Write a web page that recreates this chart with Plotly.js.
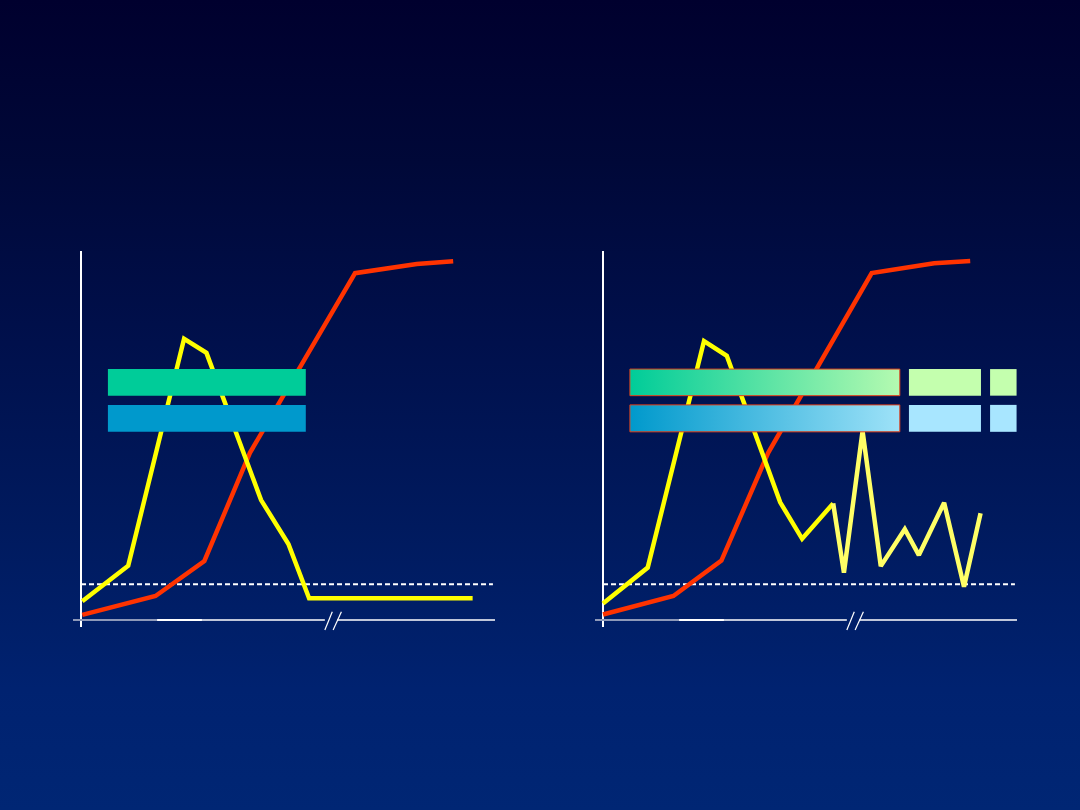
<!DOCTYPE html>
<html><head><meta charset="utf-8">
<script src="https://cdn.plot.ly/plotly-3.0.1.min.js"></script>
<style>
html,body{margin:0;padding:0;width:1080px;height:810px;overflow:hidden;
background:linear-gradient(to bottom,#00002E 0%,#000838 20%,#000F4A 40%,#001A5E 65%,#002270 85%,#002674 100%);}
#chart{width:1080px;height:810px;}
</style>
</head><body><div id="chart"></div>
<script>
// Panel 1 (left)
const red1X=[0.3,18.0,29.8,40.8,66.2,81.1,89.9];
const red1Y=[1.4,6.5,16.0,45.3,94.0,96.5,97.2];
const yel1X=[0.3,11.4,24.9,30.3,43.5,50.1,55.1,94.6];
const yel1Y=[5.1,14.7,76.2,72.4,32.5,20.6,5.9,5.9];
// Panel 2 (right)
const red2X=[0,17.0,28.6,39.9,64.9,80.0,88.7];
const red2Y=[1.5,6.5,16.1,45.3,94.0,96.7,97.3];
const yel2aX=[0,10.8,24.4,29.9,42.8,48.1,55.6];
const yel2aY=[4.5,14.2,75.6,71.6,31.9,22.0,31.6];
const yel2bX=[55.6,58.2,62.7,67.1,72.9,76.3,82.4,87.2,91.2];
const yel2bY=[31.6,12.8,51.2,14.6,24.6,17.6,31.8,9.0,28.9];
const threshold=9.7;
const thresholdEnd=99.5;
const axisBreak=59.9;
// Bands
const band1Start=[6.5], band1End=[54.3];
const band2Segments=[[6.5,71.7],[73.9,91.3],[93.5,99.9]];
const greenBand=[60.8,68.0];
const blueBand=[51.0,58.3];

const RED='#FF3300', YEL='#FFFF00', PALE='#FFFF66';
const G0='#00CC99', G1='#C4FFAE', B0='#0099CC', B1='#A8E6FF';

function line(x,y,color,xa,ya){return {type:'scatter',mode:'lines',x:x,y:y,xaxis:xa,yaxis:ya,
  line:{color:color,width:4.5},hoverinfo:'skip',showlegend:false};}
function rect(x0,x1,band,xa,ya,fill,grad,edge){
  const t={type:'scatter',mode:'lines',x:[x0,x1,x1,x0,x0],y:[band[0],band[0],band[1],band[1],band[0]],
    xaxis:xa,yaxis:ya,fill:'toself',hoverinfo:'skip',showlegend:false,
    line:{color:edge||'rgba(0,0,0,0)',width:edge?1:0}};
  if(grad){t.fillgradient={type:'horizontal',colorscale:[[0,grad[0]],[1,grad[1]]]};t.fillcolor=grad[0];}
  else t.fillcolor=fill;
  return t;}
function dashed(xa,ya){return {type:'scatter',mode:'lines',x:[0,thresholdEnd],y:[threshold,threshold],xaxis:xa,yaxis:ya,
  line:{color:'#FFFFFF',width:2,dash:'5px,3px'},hoverinfo:'skip',showlegend:false};}

const data=[
  dashed('x','y'),
  line(red1X,red1Y,RED,'x','y'),
  line(yel1X,yel1Y,YEL,'x','y'),
  rect(band1Start[0],band1End[0],greenBand,'x','y',G0),
  rect(band1Start[0],band1End[0],blueBand,'x','y',B0),
  dashed('x2','y2'),
  line(red2X,red2Y,RED,'x2','y2'),
  line(yel2aX,yel2aY,YEL,'x2','y2'),
  line(yel2bX,yel2bY,PALE,'x2','y2'),
];
band2Segments.forEach((s,i)=>{
  if(i===0){
    data.push(rect(s[0],s[1],greenBand,'x2','y2',null,[G0,'#B4FAB0'],'#E0401A'));
    data.push(rect(s[0],s[1],blueBand,'x2','y2',null,[B0,'#9EE2F8'],'#E0401A'));
  } else {
    data.push(rect(s[0],s[1],greenBand,'x2','y2',G1));
    data.push(rect(s[0],s[1],blueBand,'x2','y2',B1));
  }
});

function axisShapes(xr,yr){
  const s=[];
  const L=(x0,y0,x1,y1,c,w)=>s.push({type:'line',xref:xr,yref:yr,x0:x0,y0:y0,x1:x1,y1:y1,line:{color:c,width:w},layer:'below'});
  L(0,-1.9,0,100,'#FFFFFF',2);
  L(-1.93,0,axisBreak-1.0,0,'#FFFFFF',1.5);
  L(axisBreak+2.0,0,100,0,'#FFFFFF',1.5);
  L(-1.93,0,18.4,0,'#8E99B9',2);
  L(18.4,0,29.2,0,'#FFFFFF',2);
  L(axisBreak-1.0,-2.7,axisBreak+0.8,2.25,'#FFFFFF',1.2);
  L(axisBreak+1.0,-2.7,axisBreak+3.0,2.25,'#FFFFFF',1.2);
  return s;}

const xr=[-2.657,101.21], yr=[-5.42,101.63];
const ax={range:xr,visible:false,fixedrange:true,showgrid:false,zeroline:false};
const ay={range:yr,visible:false,fixedrange:true,showgrid:false,zeroline:false};
const layout={
  width:1080,height:810,margin:{l:0,r:0,t:0,b:0},
  paper_bgcolor:'rgba(0,0,0,0)',plot_bgcolor:'rgba(0,0,0,0)',showlegend:false,
  xaxis:Object.assign({domain:[0.064815,0.462963],anchor:'y'},ax),
  yaxis:Object.assign({domain:[0.209877,0.697531],anchor:'x'},ay),
  xaxis2:Object.assign({domain:[0.548148,0.946296],anchor:'y2'},ax),
  yaxis2:Object.assign({domain:[0.209877,0.697531],anchor:'x2'},ay),
  shapes:axisShapes('x','y').concat(axisShapes('x2','y2'))
};
Plotly.newPlot('chart',data,layout,{staticPlot:true,displayModeBar:false});
</script>
</body></html>
